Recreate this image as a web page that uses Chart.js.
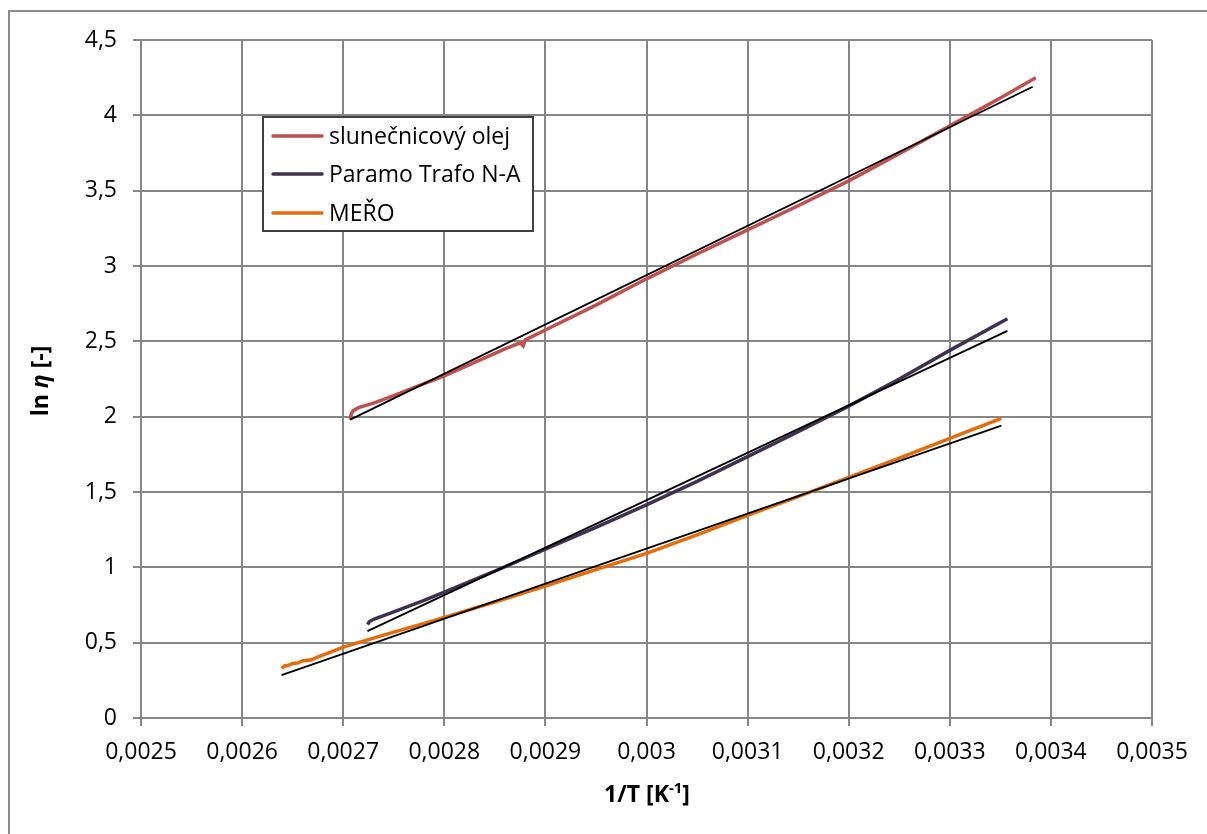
<!DOCTYPE html>
<html>
<head>
<meta charset="utf-8">
<script src="https://cdn.jsdelivr.net/npm/chart.js@4.4.1/dist/chart.umd.min.js"></script>
<style>
  html, body { margin: 0; padding: 0; background: #ffffff; }
  #wrap { width: 1207px; height: 834px; position: relative; }
</style>
</head>
<body>
<div id="wrap"><canvas id="c" width="1207" height="834"></canvas></div>
<script>
// Inverse temperature 1/T [K^-1] and ln(viscosity) for three oils
const sunflowerX = [0.002707, 0.002708, 0.00271, 0.002715, 0.00273, 0.00275, 0.00278, 0.0028, 0.00283, 0.00286, 0.002875, 0.002878, 0.00288, 0.0029, 0.00295, 0.003, 0.00305, 0.0031, 0.00315, 0.0032, 0.00325, 0.0033, 0.00335, 0.003385];
const sunflowerY = [1.98, 2.02, 2.04, 2.06, 2.09, 2.14, 2.22, 2.27, 2.36, 2.45, 2.49, 2.47, 2.51, 2.575, 2.74, 2.915, 3.08, 3.24, 3.40, 3.565, 3.745, 3.93, 4.115, 4.25];

const paramoX = [0.002724, 0.002726, 0.00273, 0.00275, 0.00278, 0.0028, 0.00285, 0.0029, 0.00295, 0.003, 0.00305, 0.0031, 0.00315, 0.0032, 0.00325, 0.0033, 0.003357];
const paramoY = [0.620, 0.640, 0.655, 0.705, 0.780, 0.835, 0.975, 1.120, 1.265, 1.414, 1.570, 1.735, 1.900, 2.070, 2.250, 2.440, 2.650];

const meroX = [0.002639, 0.002642, 0.002646, 0.00265, 0.002655, 0.00266, 0.002668, 0.002675, 0.002685, 0.0027, 0.00272, 0.00275, 0.00278, 0.0028, 0.00285, 0.0029, 0.00295, 0.003, 0.00305, 0.0031, 0.00315, 0.0032, 0.00325, 0.0033, 0.003351];
const meroY = [0.330, 0.345, 0.350, 0.362, 0.365, 0.380, 0.385, 0.405, 0.430, 0.470, 0.510, 0.570, 0.628, 0.668, 0.770, 0.875, 0.985, 1.093, 1.215, 1.345, 1.470, 1.597, 1.725, 1.856, 1.989];

// Linear trend lines (end points)
const sunflowerFitX = [0.002707, 0.003382];
const sunflowerFitY = [1.98, 4.19];
const paramoFitX = [0.002724, 0.003357];
const paramoFitY = [0.577, 2.569];
const meroFitX = [0.002639, 0.003351];
const meroFitY = [0.285, 1.94];

const seriesNames = ['slunečnicový olej', 'Paramo Trafo N-A', 'MEŘO'];
const seriesColors = ['#C0504D', '#403152', '#E46C0A'];

const xTicks = [0.0025, 0.0026, 0.0027, 0.0028, 0.0029, 0.003, 0.0031, 0.0032, 0.0033, 0.0034, 0.0035];
const yTicks = [0, 0.5, 1, 1.5, 2, 2.5, 3, 3.5, 4, 4.5];

const FONT = "'Open Sans', 'Noto Sans', sans-serif";
const GRID = '#868686';

function pts(xs, ys) { return xs.map((x, i) => ({ x: x, y: ys[i] })); }
function fmtComma(v, digits) {
  let s = (+v.toFixed(digits)).toString();
  return s.replace('.', ',');
}

const dataSeries = [
  [sunflowerX, sunflowerY],
  [paramoX, paramoY],
  [meroX, meroY]
].map((d, i) => ({
  label: seriesNames[i],
  data: pts(d[0], d[1]),
  borderColor: seriesColors[i],
  backgroundColor: seriesColors[i],
  borderWidth: 3.5,
  pointRadius: 0,
  tension: 0,
  order: 2
}));

const fitSeries = [
  [sunflowerFitX, sunflowerFitY],
  [paramoFitX, paramoFitY],
  [meroFitX, meroFitY]
].map((d, i) => ({
  label: 'fit ' + i,
  data: pts(d[0], d[1]),
  borderColor: '#000000',
  borderWidth: 1.8,
  pointRadius: 0,
  tension: 0,
  order: 1
}));

// Frame, legend box and axis titles
const decor = {
  id: 'decor',
  beforeDraw(chart) {
    const ctx = chart.ctx;
    ctx.save();
    ctx.fillStyle = '#ffffff';
    ctx.fillRect(0, 0, chart.width, chart.height);
    ctx.strokeStyle = '#8a8a8a';
    ctx.lineWidth = 2;
    ctx.strokeRect(9, 11, chart.width + 20, chart.height + 20);
    ctx.restore();
  },
  afterDraw(chart) {
    const ctx = chart.ctx;
    ctx.save();
    // legend
    const lx = 263, ly = 117, lw = 270, lh = 114;
    ctx.fillStyle = '#ffffff';
    ctx.fillRect(lx, ly, lw, lh);
    ctx.strokeStyle = '#404040';
    ctx.lineWidth = 2;
    ctx.strokeRect(lx, ly, lw, lh);
    const rows = [136, 174, 213];
    ctx.font = '23px ' + FONT;
    ctx.textBaseline = 'middle';
    ctx.textAlign = 'left';
    seriesNames.forEach((name, i) => {
      ctx.strokeStyle = seriesColors[i];
      ctx.lineWidth = 3.5;
      ctx.lineCap = 'round';
      ctx.beginPath();
      ctx.moveTo(273, rows[i]);
      ctx.lineTo(322, rows[i]);
      ctx.stroke();
      ctx.fillStyle = '#000000';
      ctx.fillText(name, 329, rows[i] + 1);
    });

    // x axis title: 1/T [K^-1]
    const bold = 'bold 23px ' + FONT;
    const sup = 'bold 15px ' + FONT;
    ctx.textBaseline = 'alphabetic';
    ctx.fillStyle = '#000000';
    ctx.font = bold; const w1 = ctx.measureText('1/T [K').width;
    ctx.font = sup; const w2 = ctx.measureText('-1').width;
    ctx.font = bold; const w3 = ctx.measureText(']').width;
    let x = 647 - (w1 + w2 + w3) / 2;
    const base = 802;
    ctx.font = bold; ctx.fillText('1/T [K', x, base); x += w1;
    ctx.font = sup; ctx.fillText('-1', x, base - 9); x += w2;
    ctx.font = bold; ctx.fillText(']', x, base);

    // y axis title: ln η [-]
    ctx.translate(48, 381);
    ctx.rotate(-Math.PI / 2);
    const parts = [['ln ', 'bold 23px ' + FONT], ['η', 'italic bold 23px ' + FONT], [' [-]', 'bold 23px ' + FONT]];
    let total = 0;
    parts.forEach(p => { ctx.font = p[1]; total += ctx.measureText(p[0]).width; });
    let px = -total / 2;
    parts.forEach(p => { ctx.font = p[1]; ctx.fillText(p[0], px, 0); px += ctx.measureText(p[0]).width; });
    ctx.restore();
  }
};

new Chart(document.getElementById('c'), {
  type: 'line',
  data: { datasets: dataSeries.concat(fitSeries) },
  options: {
    responsive: false,
    animation: false,
    devicePixelRatio: 1,
    layout: { padding: { left: 0, right: 55, top: 40, bottom: 0 } },
    plugins: { legend: { display: false }, tooltip: { enabled: false } },
    scales: {
      x: {
        type: 'linear',
        min: 0.0025,
        max: 0.0035,
        afterBuildTicks: s => { s.ticks = xTicks.map(v => ({ value: v })); },
        afterFit: s => { s.height = 116; },
        ticks: {
          color: '#000000',
          font: { family: FONT, size: 23 },
          padding: 13,
          maxRotation: 0,
          autoSkip: false,
          callback: v => fmtComma(v, 4)
        },
        grid: { color: GRID, lineWidth: 2, tickLength: 8, tickColor: GRID, drawTicks: true },
        border: { color: GRID, width: 2 }
      },
      y: {
        type: 'linear',
        min: 0,
        max: 4.5,
        afterBuildTicks: s => { s.ticks = yTicks.map(v => ({ value: v })); },
        afterFit: s => { s.width = 141; },
        ticks: {
          color: '#000000',
          font: { family: FONT, size: 23 },
          padding: 16,
          autoSkip: false,
          callback: v => fmtComma(v, 1)
        },
        grid: { color: GRID, lineWidth: 2, tickLength: 8, tickColor: GRID, drawTicks: true },
        border: { color: GRID, width: 2 }
      }
    }
  },
  plugins: [decor]
});
</script>
</body>
</html>
